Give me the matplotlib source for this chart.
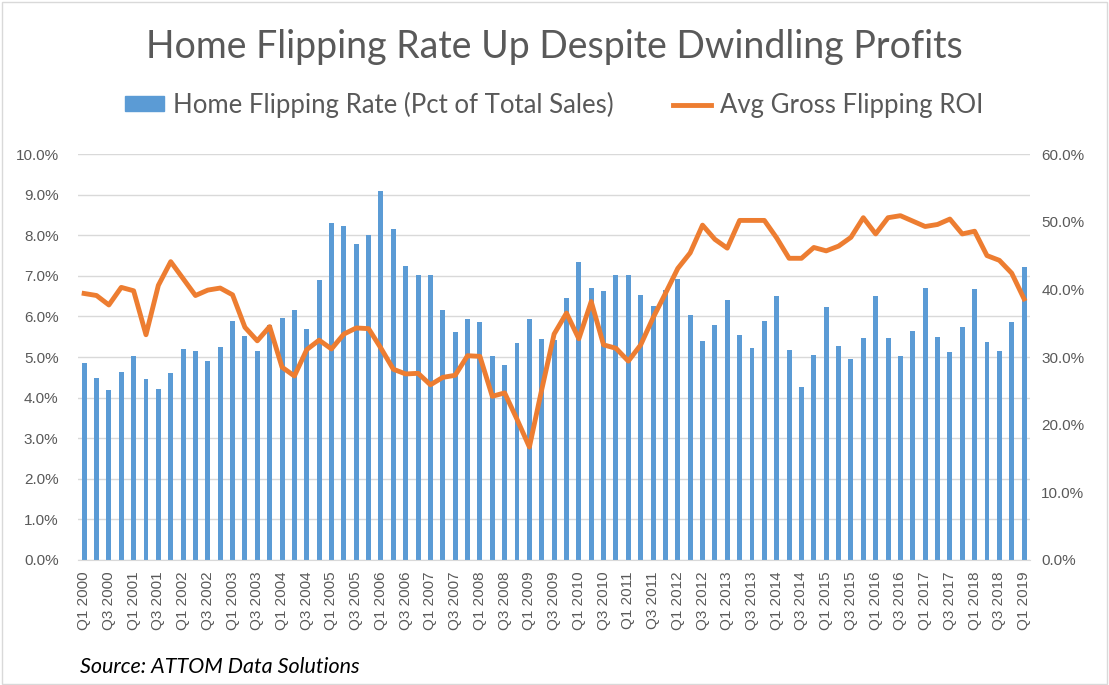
import matplotlib.pyplot as plt
from matplotlib.patches import Rectangle
from matplotlib.lines import Line2D
from matplotlib.ticker import FuncFormatter

# quarterly data Q1 2000 .. Q1 2019
years = list(range(2000, 2020))
quarters = [f"Q{q} {y}" for y in years for q in (1, 2, 3, 4)][:77]

flip_rate = [
    4.86, 4.49, 4.20, 4.64, 5.03, 4.47, 4.22, 4.61, 5.20, 5.16,
    4.91, 5.25, 5.89, 5.52, 5.16, 5.80, 5.97, 6.16, 5.70, 6.90,
    8.30, 8.23, 7.79, 8.01, 9.09, 8.16, 7.25, 7.02, 7.02, 6.16,
    5.62, 5.94, 5.87, 5.03, 4.81, 5.35, 5.94, 5.45, 5.43, 6.46,
    7.34, 6.70, 6.63, 7.02, 7.02, 6.53, 6.26, 6.66, 6.93, 6.04,
    5.40, 5.80, 6.41, 5.55, 5.23, 5.89, 6.50, 5.18, 4.25, 5.06,
    6.24, 5.28, 4.96, 5.48, 6.51, 5.48, 5.03, 5.65, 6.70, 5.50,
    5.13, 5.75, 6.68, 5.38, 5.16, 5.87, 7.22,
]

roi = [
    39.4, 39.1, 37.7, 40.3, 39.8, 33.3, 40.6, 44.1, 41.6, 39.1,
    39.9, 40.2, 39.2, 34.4, 32.4, 34.5, 28.5, 27.2, 31.1, 32.5,
    31.2, 33.4, 34.3, 34.2, 31.3, 28.2, 27.5, 27.6, 25.9, 27.0,
    27.3, 30.2, 30.1, 24.2, 24.7, 20.8, 16.7, 25.2, 33.4, 36.5,
    32.7, 38.2, 31.8, 31.3, 29.4, 31.8, 35.8, 39.4, 43.1, 45.4,
    49.5, 47.4, 46.1, 50.2, 50.2, 50.2, 47.6, 44.6, 44.6, 46.2,
    45.7, 46.4, 47.7, 50.6, 48.2, 50.6, 50.9, 50.1, 49.3, 49.6,
    50.4, 48.2, 48.6, 45.0, 44.3, 42.4, 38.6,
]

BLUE = "#5B9BD5"
ORANGE = "#ED7D31"
GREY = "#595959"
GRID = "#D9D9D9"

fig = plt.figure(figsize=(11.09, 6.85), dpi=100)
ax = fig.add_axes([0.0703, 0.1825, 0.8587, 0.5925])
ax2 = ax.twinx()

x = list(range(len(quarters)))
ax.bar(x, flip_rate, width=0.4, color=BLUE, zorder=2)
ax2.plot(x, roi, color=ORANGE, lw=3.5, solid_joinstyle="round", zorder=3)

ax.set_xlim(-0.5, len(quarters) - 0.5)
ax.set_ylim(0, 10)
ax2.set_ylim(0, 60)
ax.set_yticks([i for i in range(11)])
ax2.set_yticks([i * 10 for i in range(7)])
ax.yaxis.set_major_formatter(FuncFormatter(lambda v, p: f"{v:.1f}%"))
ax2.yaxis.set_major_formatter(FuncFormatter(lambda v, p: f"{v:.1f}%"))

ax.set_xticks(x[::2])
ax.set_xticklabels(quarters[::2], rotation=90, va="top")

ax.grid(axis="y", color=GRID, lw=1, zorder=0)
ax.set_axisbelow(True)
for a in (ax, ax2):
    for s in a.spines.values():
        s.set_visible(False)
ax.spines["bottom"].set_visible(True)
ax.spines["bottom"].set_color(GRID)

ax.tick_params(axis="y", length=0, pad=14, labelcolor=GREY)
ax2.tick_params(axis="y", length=0, pad=8, labelcolor=GREY)
ax.tick_params(axis="x", length=0, pad=8, labelcolor=GREY)
for lab in ax.get_xticklabels() + ax.get_yticklabels() + ax2.get_yticklabels():
    lab.set_fontfamily("Liberation Sans")
    lab.set_fontsize(11)

fig.text(0.5, 0.932, "Home Flipping Rate Up Despite Dwindling Profits",
         ha="center", va="center", fontsize=27, color=GREY, family="Lato")

handles = [Rectangle((0, 0), 1, 1, color=BLUE),
           Line2D([], [], color=ORANGE, lw=3.5)]
fig.legend(handles, ["Home Flipping Rate (Pct of Total Sales)", "Avg Gross Flipping ROI"],
           loc="center", bbox_to_anchor=(0.5, 0.847), ncol=2, frameon=False,
           prop=dict(family="Lato", size=18.5), labelcolor=GREY,
           handlelength=1.5, handleheight=0.5, columnspacing=2.3, handletextpad=0.35)

fig.text(0.072, 0.027, "Source: ATTOM Data Solutions", ha="left", va="center",
         fontsize=15.5, style="italic", family="Lato", color="black")

fig.patches.append(Rectangle((0.0015, 0.002), 0.997, 0.995, transform=fig.transFigure,
                             fill=False, edgecolor=GRID, lw=1))

fig.savefig("out.png", dpi=100)
